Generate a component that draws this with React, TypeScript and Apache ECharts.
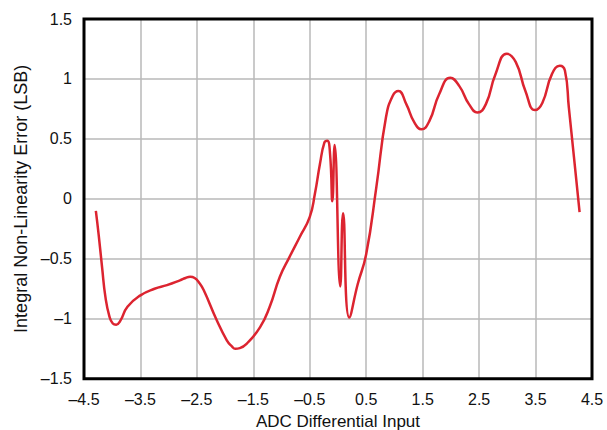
import React, { useEffect, useRef } from "react";
import * as echarts from "echarts";

const xValues = [
  -4.29, -4.24, -4.18, -4.12, -4.05, -3.99, -3.93, -3.86, -3.73, -3.5, -3.25,
  -3.03, -2.8, -2.7, -2.62, -2.54, -2.46, -2.38, -2.15, -1.97, -1.88, -1.82,
  -1.74, -1.62, -1.38, -1.21, -1.03, -0.86, -0.68, -0.5, -0.41, -0.32, -0.24,
  -0.19, -0.14, -0.1, -0.06, 0.04, 0.09, 0.2, 0.35, 0.5, 0.68, 0.85, 0.97,
  1.07, 1.21, 1.35, 1.48, 1.62, 1.79, 1.99, 2.15, 2.32, 2.47, 2.62, 2.79, 2.99,
  3.15, 3.32, 3.49, 3.62, 3.79, 3.93, 4.02, 4.09, 4.18, 4.28,
];
const inlValues = [
  -0.1, -0.3, -0.57, -0.82, -0.98, -1.04, -1.05, -1.02, -0.9, -0.805, -0.75,
  -0.72, -0.68, -0.66, -0.65, -0.66, -0.7, -0.76, -1.01, -1.18, -1.23, -1.25,
  -1.245, -1.21, -1.07, -0.9, -0.65, -0.486, -0.32, -0.15, 0.04, 0.29, 0.47,
  0.485, 0.37, -0.02, 0.45, -0.73, -0.12, -0.99, -0.71, -0.46, 0.1, 0.68, 0.86,
  0.9, 0.79, 0.64, 0.58, 0.65, 0.87, 1.01, 0.94, 0.79, 0.72, 0.79, 1.04, 1.21,
  1.14, 0.9, 0.74, 0.8, 1.04, 1.11, 1.07, 0.76, 0.35, -0.11,
];

const xName = "ADC Differential Input";
const yName = "Integral Non-Linearity Error (LSB)";

const fmt = (v: number) => String(v).replace("-", "\u2013");

export default function App() {
  const ref = useRef<HTMLDivElement>(null);
  useEffect(() => {
    if (!ref.current) return;
    const chart = echarts.init(ref.current, null, { renderer: "svg" });
    const data = xValues.map((x, i) => [x, inlValues[i]]);
    chart.setOption({
      animation: false,
      backgroundColor: "#fff",
      textStyle: { fontFamily: "Liberation Sans, Arial, sans-serif" },
      grid: {
        left: 84,
        right: 15,
        top: 19,
        bottom: 51.3,
        show: true,
        borderColor: "#000",
        borderWidth: 3,
        z: 5,
        outerBoundsMode: "none",
        containLabel: false,
      },
      xAxis: {
        type: "value",
        min: -4.5,
        max: 4.5,
        interval: 1,
        name: xName,
        nameLocation: "middle",
        nameGap: 27,
        nameTextStyle: { fontSize: 17, color: "#111", lineHeight: 17 },
        axisLine: { show: false },
        axisTick: { show: false },
        axisLabel: {
          fontSize: 16,
          color: "#111",
          margin: 13,
          formatter: (v: number) => fmt(v),
        },
        splitLine: {
          show: true,
          showMinLine: false,
          showMaxLine: false,
          lineStyle: { color: "#b9b9b9", width: 1.5 },
        },
      },
      yAxis: {
        type: "value",
        min: -1.5,
        max: 1.5,
        interval: 0.5,
        name: yName,
        nameLocation: "middle",
        nameGap: 52,
        nameTextStyle: { fontSize: 18, color: "#111" },
        axisLine: { show: false },
        axisTick: { show: false },
        axisLabel: {
          fontSize: 16,
          color: "#111",
          margin: 12,
          formatter: (v: number) => fmt(v),
        },
        splitLine: {
          show: true,
          showMinLine: false,
          showMaxLine: false,
          lineStyle: { color: "#b9b9b9", width: 1.5 },
        },
      },
      series: [
        {
          type: "line",
          data,
          smooth: 0.5,
          showSymbol: false,
          symbol: "none",
          lineStyle: { color: "#dc2430", width: 2.5 },
          z: 3,
        },
      ],
    });
    return () => chart.dispose();
  }, []);
  return <div ref={ref} style={{ width: 607, height: 430, position: "absolute", left: 0, top: 0 }} />;
}
